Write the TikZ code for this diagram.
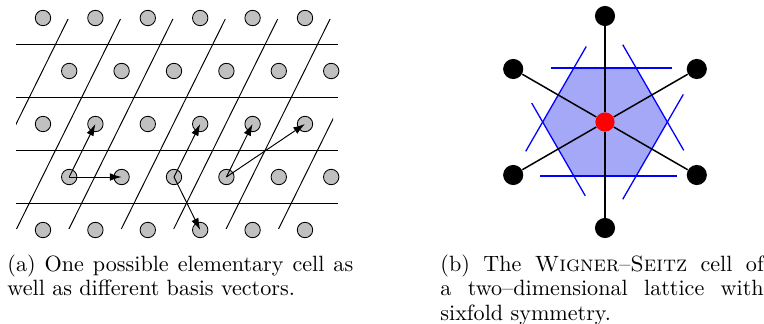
\documentclass[tikz,border=0pt]{standalone}
\usepackage{tikz}
\usetikzlibrary{
  shapes.geometric,
  arrows.meta,
  positioning
}
\definecolor{LatticeGray}{RGB}{192, 192, 192}
\definecolor{CellBlue}{RGB}{164, 168, 247}

\begin{document}
\begin{tikzpicture}[x=0.467pt, y=-0.467pt,
    site/.style={circle, draw=black, fill=LatticeGray, line width=0.4pt, minimum size=7.2pt, inner sep=0pt},
    atom/.style={circle, fill=black, minimum size=9.4pt, inner sep=0pt},
    origin/.style={circle, fill=red, minimum size=9pt, inner sep=0pt},
    wscell/.style={regular polygon, regular polygon sides=6, minimum size=57.9pt, inner sep=0pt, fill=CellBlue},
    gridline/.style={line width=0.45pt},
    basis/.style={-{Latex[length=5.5pt,width=3.6pt]}, line width=0.45pt},
    bisector/.style={blue, line width=0.6pt},
    bond/.style={black, line width=0.7pt},
    caption/.style={anchor=base west, inner sep=0pt, align=justify,
        font=\fontsize{10.33}{11.5}\selectfont}]
\useasboundingbox (0,0) rectangle (764,324);

% (a) lattice with elementary cells
\foreach \y in {44.5,97.5,150.5,203.5}
    \draw[gridline] (16,\y) -- (338,\y);
\begin{scope}
    \clip (16,19) rectangle (333,229);
    \foreach \k in {-1,...,5}
        \draw[gridline] (16.5+52.4*\k,229) -- ++(104,-210);
\end{scope}
\foreach \r in {0,...,4}{
    \foreach \c in {0,...,5}{
        \pgfmathsetmacro{\px}{43+52.4*\c+26.2*mod(\r,2)}
        \node[site] (p-\r-\c) at (\px,18+53*\r) {};
    }
}
\draw[basis] (p-3-0.center) -- (p-3-1.center);
\draw[basis] (p-3-0.center) -- (p-2-1.center);
\draw[basis] (p-3-2.center) -- (p-2-3.center);
\draw[basis] (p-3-2.center) -- (p-4-3.center);
\draw[basis] (p-3-3.center) -- (p-2-4.center);
\draw[basis] (p-3-3.center) -- (p-2-5.center);

% (b) Wigner-Seitz cell
\coordinate (ctr) at (605,122);
\node[wscell] (ws) at (ctr) {};
\foreach \a/\l/\m in {270/67/54, 90/65/72, 210/56/65, 330/64/58, 150/53/54, 30/58/63}
    \draw[bisector] (ctr) ++(\a:54) ++(\a+90:\l) -- ++(\a-90:\l+\m);
\node[origin] (o) at (ctr) {};
\foreach \a [count=\i] in {270,330,30,90,150,210}
    \node[atom] (n\i) at ([shift={(\a:106)}]ctr) {};
\foreach \i in {1,...,6}
    \draw[bond] (o) -- (n\i);

% captions
\node[caption, text width=161.5pt] (capa) at (7,271)
    {(a) One possible elementary cell as\linebreak well as different basis vectors.};
\node[caption, text width=151pt] (capb) at (440,271)
    {(b) The \textsc{Wigner}--\textsc{Seitz} cell of\linebreak a two--dimensional lattice with\linebreak sixfold symmetry.};
\end{tikzpicture}
\end{document}
